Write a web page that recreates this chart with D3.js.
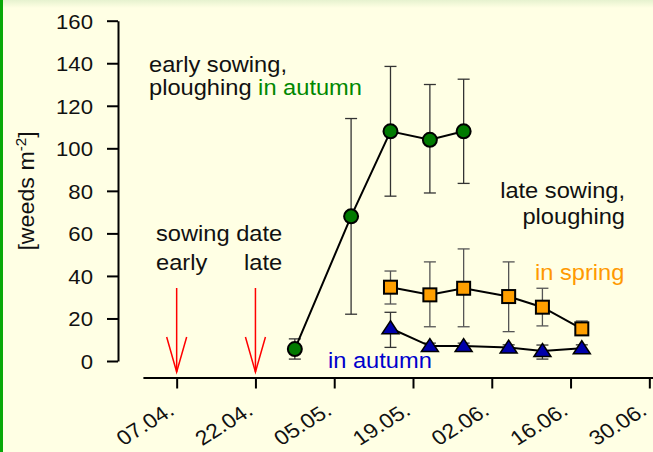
<!DOCTYPE html>
<html>
<head>
<meta charset="utf-8">
<script src="https://cdn.jsdelivr.net/npm/d3@7"></script>
<style>
  html, body { margin: 0; padding: 0; background: #ffffe4; }
  svg { display: block; font-family: "Liberation Sans", Arial, sans-serif; }
</style>
</head>
<body>
<div id="chart"></div>
<script>
// ---- data (days counted from 07.04.) ----
var tickDays = [0, 14, 28, 42, 56, 70, 84];
var tickLabels = ["07.04.", "22.04.", "05.05.", "19.05.", "02.06.", "16.06.", "30.06."];
var yTicks = [0, 20, 40, 60, 80, 100, 120, 140, 160];

// early sowing, ploughing in autumn
var earlyDays = [21, 31, 38, 45, 51];
var earlyAutumn = [5.6, 68, 108, 104, 108];
var earlyAutumnLo = [0.9, 22, 77.5, 79, 83.5];
var earlyAutumnHi = [10.4, 114, 138.5, 130, 132.5];

// late sowing, ploughing in spring / in autumn
var lateDays = [38, 45, 51, 59, 65, 72];
var lateSpring = [34.7, 31.1, 34.2, 30.3, 25.3, 15.1];
var lateSpringLo = [26.8, 16.1, 16.1, 13.8, 16.5, 13.6];
var lateSpringHi = [42.3, 46.6, 52.7, 46.6, 34.2, 18.8];
var lateAutumn = [15.4, 7, 7, 6.3, 4.7, 6];
var lateAutumnLo = [6.4, 5.5, 5.6, 4.6, 0.9, 4.6];
var lateAutumnHi = [22.9, 8.4, 8.4, 7.6, 7.5, 7.6];

var sowingDays = [0, 14];
var sowingLabels = ["early", "late"];

var W = 653, H = 452;
var FS = 21.5, SX = 1.1; // glyphs in the picture are a bit wide

var svg = d3.select("#chart").append("svg")
  .attr("width", W).attr("height", H);

// background, top shade and green left edge
var grad = svg.append("defs").append("linearGradient")
  .attr("id", "topShade").attr("x1", 0).attr("y1", 0).attr("x2", 0).attr("y2", 1);
grad.append("stop").attr("offset", 0).attr("stop-color", "#e6f2cf");
grad.append("stop").attr("offset", 1).attr("stop-color", "#ffffe4");
svg.append("rect").attr("width", W).attr("height", H).attr("fill", "#ffffe4");
svg.append("rect").attr("width", W).attr("height", 8).attr("fill", "url(#topShade)");
svg.append("rect").attr("x", 0).attr("y", 0).attr("width", 3).attr("height", H).attr("fill", "#08a808");

var x = d3.scaleLinear().domain([-6, 90]).range([142.9, 142.9 + 96 * 5.627]);
var y = d3.scaleLinear().domain([0, 160]).range([361, 20.7]);

// stretched text helper
function place(sel, px, py, rot, sx) {
  return sel.attr("x", 0).attr("y", 0)
    .attr("transform", "translate(" + px + "," + py + ")" + (rot ? " rotate(" + rot + ")" : "") + " scale(" + (sx || SX) + ",1)");
}

// y axis
var yAxis = svg.append("g")
  .attr("transform", "translate(118,0)")
  .call(d3.axisLeft(y).tickValues(yTicks).tickSize(11).tickSizeOuter(0));
yAxis.select(".domain").attr("stroke-width", 2);
yAxis.selectAll(".tick line").attr("stroke-width", 2);
yAxis.selectAll(".tick text")
  .attr("font-size", 20.5).attr("fill", "#111").attr("dy", null)
  .each(function () { place(d3.select(this), -25, 7.5, 0, 1.08); });

// x axis (labels: rotated first, then stretched sideways like the picture)
var xAxis = svg.append("g")
  .attr("transform", "translate(0,377.5)")
  .call(d3.axisBottom(x).tickValues(tickDays).tickSize(11).tickSizeOuter(0)
    .tickFormat(function (d, i) { return tickLabels[i]; }));
xAxis.select(".domain").attr("stroke-width", 2);
xAxis.selectAll(".tick line").attr("stroke-width", 2);
xAxis.selectAll(".tick text")
  .attr("font-size", 20.5).attr("fill", "#111").attr("dy", null)
  .attr("text-anchor", "end")
  .attr("x", 0).attr("y", 0)
  .attr("transform", "translate(-1.5,36) scale(1.12,1) rotate(-35)");

// y label
var yl = svg.append("text").attr("font-size", FS).attr("fill", "#111").attr("text-anchor", "middle");
yl.append("tspan").text("[weeds m");
yl.append("tspan").attr("font-size", 14).attr("dy", -8).text("-2");
yl.append("tspan").attr("dy", 8).text("]");
place(yl, 34, 191, -90, 1.08);

// sowing date arrows
var arrows = svg.append("g").attr("stroke", "#ff0000").attr("stroke-width", 1.5).attr("fill", "none");
sowingDays.forEach(function (d) {
  var ax = x(d);
  arrows.append("line").attr("x1", ax).attr("x2", ax).attr("y1", 288).attr("y2", 372);
  arrows.append("path").attr("d", "M" + (ax - 10) + ",337L" + ax + ",372L" + (ax + 10) + ",337");
});

// error bars
function errBars(days, lo, hi, col) {
  var g = svg.append("g").attr("stroke", col).attr("stroke-width", 1.3);
  days.forEach(function (d, i) {
    var cx = x(d);
    g.append("line").attr("x1", cx).attr("x2", cx).attr("y1", y(lo[i])).attr("y2", y(hi[i]));
    g.append("line").attr("x1", cx - 6).attr("x2", cx + 6).attr("y1", y(lo[i])).attr("y2", y(lo[i]));
    g.append("line").attr("x1", cx - 6).attr("x2", cx + 6).attr("y1", y(hi[i])).attr("y2", y(hi[i]));
  });
}
errBars(earlyDays, earlyAutumnLo, earlyAutumnHi, "#333");
errBars(lateDays, lateSpringLo, lateSpringHi, "#555");
errBars(lateDays, lateAutumnLo, lateAutumnHi, "#333");

// lines
var line = d3.line().x(function (d) { return x(d[0]); }).y(function (d) { return y(d[1]); });
function series(days, vals) { return days.map(function (d, i) { return [d, vals[i]]; }); }
[series(earlyDays, earlyAutumn), series(lateDays, lateSpring), series(lateDays, lateAutumn)]
  .forEach(function (s) {
    svg.append("path").attr("d", line(s)).attr("fill", "none").attr("stroke", "#000").attr("stroke-width", 2);
  });

// markers
svg.append("g").selectAll("circle").data(series(earlyDays, earlyAutumn)).enter()
  .append("circle")
  .attr("cx", function (d) { return x(d[0]); })
  .attr("cy", function (d) { return y(d[1]); })
  .attr("r", 7).attr("fill", "#007a00").attr("stroke", "#000").attr("stroke-width", 2);

svg.append("g").selectAll("rect").data(series(lateDays, lateSpring)).enter()
  .append("rect")
  .attr("x", function (d) { return x(d[0]) - 6.5; })
  .attr("y", function (d) { return y(d[1]) - 6.5; })
  .attr("width", 13).attr("height", 13)
  .attr("fill", "#ff9f00").attr("stroke", "#000").attr("stroke-width", 2);

svg.append("g").selectAll("path").data(series(lateDays, lateAutumn)).enter()
  .append("path")
  .attr("d", "M0,-7.5L8.5,5.5L-8.5,5.5Z")
  .attr("transform", function (d) { return "translate(" + x(d[0]) + "," + y(d[1]) + ")"; })
  .attr("fill", "#0000aa").attr("stroke", "#000").attr("stroke-width", 1.5);

// annotations
function label(txt, px, py, col, anchor) {
  var t = svg.append("text").attr("font-size", FS).attr("fill", col || "#111")
    .attr("text-anchor", anchor || "start").text(txt);
  return place(t, px, py);
}
label("early sowing,", 149, 71.5);
var pl = svg.append("text").attr("font-size", FS).attr("fill", "#111");
pl.append("tspan").text("ploughing ");
pl.append("tspan").attr("fill", "#008800").text("in autumn");
place(pl, 149, 95);

label("late sowing,", 625, 198, "#111", "end");
label("ploughing", 625, 224, "#111", "end");
label("in spring", 535, 280, "#ff9900");
label("in autumn", 328, 368, "#0000cc");

label("sowing date", 156, 241);
label(sowingLabels[0], 156, 270);
label(sowingLabels[1], 244, 270);
</script>
</body>
</html>
